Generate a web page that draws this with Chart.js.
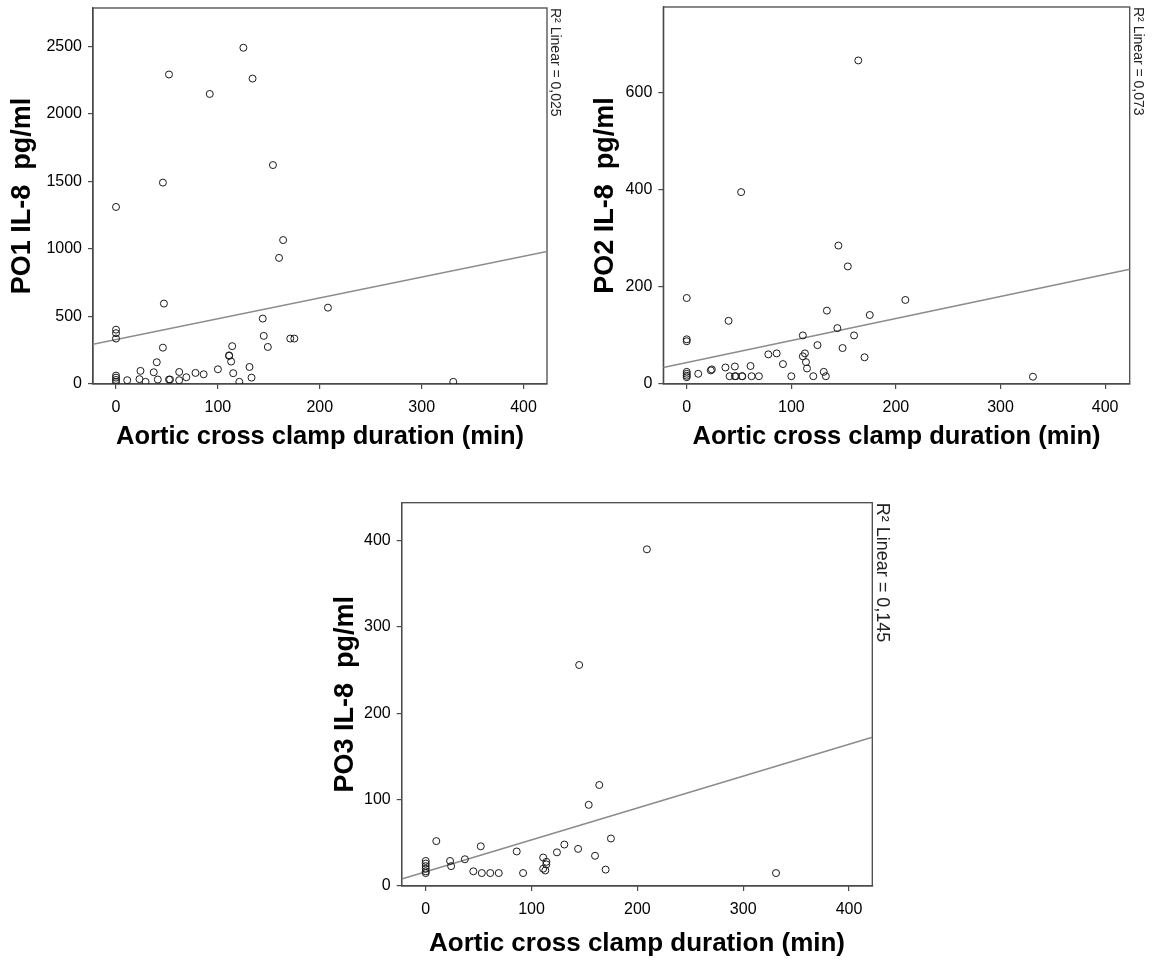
<!DOCTYPE html>
<html>
<head>
<meta charset="utf-8">
<script src="https://cdn.jsdelivr.net/npm/chart.js@4.4.1/dist/chart.umd.min.js"></script>
<style>
  html, body { margin: 0; padding: 0; background: #fff; width: 1155px; height: 962px; overflow: hidden; }
  .panel { position: absolute; }
  canvas { display: block; }
</style>
</head>
<body>
<div class="panel" style="left:0px; top:0px;"><canvas id="po1" width="577" height="455"></canvas></div>
<div class="panel" style="left:577px; top:0px;"><canvas id="po2" width="578" height="455"></canvas></div>
<div class="panel" style="left:320px; top:490px;"><canvas id="po3" width="580" height="472"></canvas></div>
<script>
// Aortic cross clamp duration (min) and IL-8 (pg/ml) per patient, postoperative day 1
const clampPO1 = [125, 52, 134, 92, 154, 46, 0, 164, 160, 47, 208, 0, 0, 0, 144, 145, 171, 175, 149, 46, 114, 111, 111, 113, 40, 131, 24, 37, 62, 78, 86, 100, 115, 133, 69, 0, 0, 0, 0, 11, 23, 29, 41, 52, 53, 62, 121, 331];
const il8PO1   = [2488, 2290, 2260, 2146, 1620, 1490, 1310, 1065, 933, 595, 565, 402, 376, 336, 484, 356, 336, 336, 274, 269, 280, 212, 208, 166, 161, 126, 97, 87, 89, 82, 72, 109, 80, 47, 50, 62, 47, 30, 16, 28, 36, 16, 33, 33, 33, 28, 16, 16];

// postoperative day 2
const clampPO2 = [164, 52, 145, 154, 0, 40, 134, 175, 144, 160, 111, 0, 0, 125, 149, 78, 86, 111, 113, 170, 92, 114, 115, 61, 37, 46, 23, 24, 11, 0, 0, 0, 0, 41, 46, 47, 53, 53, 62, 69, 100, 121, 131, 133, 209, 331];
const il8PO2   = [666, 395, 285, 242, 177, 130, 151, 142, 115, 100, 100, 92, 88, 80, 74, 61, 63, 57, 63, 55, 41, 45, 32, 37, 34, 36, 28, 30, 21, 25, 21, 17, 14, 16, 16, 16, 16, 16, 16, 16, 16, 16, 25, 16, 173, 15];

// postoperative day 3
const clampPO3 = [145, 209, 164, 154, 175, 10, 52, 131, 124, 144, 86, 160, 37, 23, 24, 111, 114, 114, 111, 113, 170, 45, 53, 61, 69, 92, 0, 0, 0, 0, 0, 0, 331];
const il8PO3   = [256, 390, 117, 94, 55, 52, 46, 48, 39, 43, 40, 35, 31, 29, 23, 33, 28, 25, 20, 18, 19, 17, 15, 15, 15, 15, 29, 26, 23, 20, 17, 15, 15];

// Linear fit lines: [intercept, slope]
const fitPO1 = [329, 1.54];
const fitPO2 = [44, 0.454];
const fitPO3 = [16.5, 0.369];

// Axis ranges and tick labels
const clampRange1 = [-22.6, 423];
const clampRange2 = [-22.4, 423.5];
const clampRange3 = [-22.7, 422];
const clampTicks = [0, 100, 200, 300, 400];
const il8Range1 = [0, 2782];
const il8Range2 = [0, 776];
const il8Range3 = [0, 444];
const il8Ticks1 = [0, 500, 1000, 1500, 2000, 2500];
const il8Ticks2 = [0, 200, 400, 600];
const il8Ticks3 = [0, 100, 200, 300, 400];

const fitNotes = ['R\u00B2 Linear = 0,025', 'R\u00B2 Linear = 0,073', 'R\u00B2 Linear = 0,145'];
const xTitle = 'Aortic cross clamp duration (min)';
const yTitles = ['PO1 IL-8  pg/ml', 'PO2 IL-8  pg/ml', 'PO3 IL-8  pg/ml'];

const FONT = "'Liberation Sans', Arial, sans-serif";
const AXIS_COLOR = '#4a4a4a';

// Frame around the plot area plus the rotated fit annotation on the right
const framePlugin = {
  id: 'frame',
  beforeDatasetsDraw(chart, args, opts) {
    const { ctx, chartArea: a } = chart;
    ctx.save();
    ctx.strokeStyle = AXIS_COLOR;
    ctx.lineWidth = 1.3;
    ctx.strokeRect(a.left, a.top, a.right - a.left, a.bottom - a.top);
    ctx.restore();
  },
  afterDraw(chart, args, opts) {
    const { ctx, chartArea: a } = chart;
    ctx.save();
    ctx.translate(a.right + opts.gap, a.top);
    ctx.rotate(Math.PI / 2);
    ctx.fillStyle = '#222';
    ctx.font = opts.size + 'px ' + FONT;
    ctx.textAlign = 'left';
    ctx.textBaseline = 'bottom';
    ctx.fillText(opts.note, 0, 0);
    ctx.restore();
  }
};

// Scales keep no extra edge padding for their end labels
function noEdgePadding(s) {
  s.paddingTop = 0;
  s.paddingBottom = 0;
  s.paddingLeft = 0;
  s.paddingRight = 0;
}

function drawPanel(id, xs, ys, fit, xRange, yRange, yTicks, yTitle, note, dims) {
  const points = xs.map((x, i) => ({ x: x, y: ys[i] }));
  const fitLine = xRange.map(x => ({ x: x, y: fit[0] + fit[1] * x }));
  new Chart(document.getElementById(id), {
    type: 'scatter',
    data: {
      datasets: [
        {
          data: points,
          pointStyle: 'circle',
          pointRadius: 3.5,
          pointBorderWidth: 1,
          pointBorderColor: '#1a1a1a',
          pointBackgroundColor: 'rgba(255,255,255,0)',
          showLine: false
        },
        {
          data: fitLine,
          showLine: true,
          borderColor: '#8c8c8c',
          borderWidth: 1.6,
          pointRadius: 0,
          fill: false
        }
      ]
    },
    options: {
      responsive: false,
      animation: false,
      events: [],
      layout: { padding: { left: 0, top: dims.top, right: dims.right, bottom: 0 } },
      plugins: {
        legend: { display: false },
        tooltip: { enabled: false },
        frame: { note: note, size: dims.noteSize, gap: dims.noteGap }
      },
      scales: {
        x: {
          type: 'linear',
          min: xRange[0],
          max: xRange[1],
          afterBuildTicks: s => { s.ticks = clampTicks.map(v => ({ value: v })); },
          afterFit: s => { s.height = dims.xHeight; noEdgePadding(s); },
          grid: { drawOnChartArea: false, drawTicks: true, tickLength: 5, color: AXIS_COLOR, lineWidth: 1.2 },
          border: { display: true, color: AXIS_COLOR, width: 1.3 },
          ticks: { color: '#000', font: { family: FONT, size: 16 }, padding: 9, maxRotation: 0, callback: v => String(v) },
          title: {
            display: true,
            text: xTitle,
            color: '#000',
            font: { family: FONT, size: dims.titleSize, weight: 'bold' },
            padding: { top: 0, bottom: 3 }
          }
        },
        y: {
          type: 'linear',
          min: yRange[0],
          max: yRange[1],
          afterBuildTicks: s => { s.ticks = yTicks.map(v => ({ value: v })); },
          afterFit: s => { s.width = dims.yWidth; noEdgePadding(s); },
          grid: { drawOnChartArea: false, drawTicks: true, tickLength: 5, color: AXIS_COLOR, lineWidth: 1.2 },
          border: { display: true, color: AXIS_COLOR, width: 1.3 },
          ticks: { color: '#000', font: { family: FONT, size: 16 }, padding: 6, callback: v => String(v) },
          title: {
            display: true,
            text: yTitle,
            color: '#000',
            font: { family: FONT, size: dims.yTitleSize, weight: 'bold' },
            padding: { top: dims.yTitlePad, bottom: 0 }
          }
        }
      }
    },
    plugins: [framePlugin]
  });
}

drawPanel('po1', clampPO1, il8PO1, fitPO1, clampRange1, il8Range1, il8Ticks1, yTitles[0], fitNotes[0],
  { top: 8, right: 30, yWidth: 93, xHeight: 71, titleSize: 25.5, yTitleSize: 27, yTitlePad: 6, noteSize: 14, noteGap: 1 });
drawPanel('po2', clampPO2, il8PO2, fitPO2, clampRange2, il8Range2, il8Ticks2, yTitles[1], fitNotes[1],
  { top: 7, right: 25.3, yWidth: 86.3, xHeight: 71, titleSize: 25.5, yTitleSize: 27, yTitlePad: 12, noteSize: 14, noteGap: 1 });
drawPanel('po3', clampPO3, il8PO3, fitPO3, clampRange3, il8Range3, il8Ticks3, yTitles[2], fitNotes[2],
  { top: 12.7, right: 27.7, yWidth: 81.7, xHeight: 76, titleSize: 26, yTitleSize: 27, yTitlePad: 9, noteSize: 18, noteGap: 1 });
</script>
</body>
</html>
